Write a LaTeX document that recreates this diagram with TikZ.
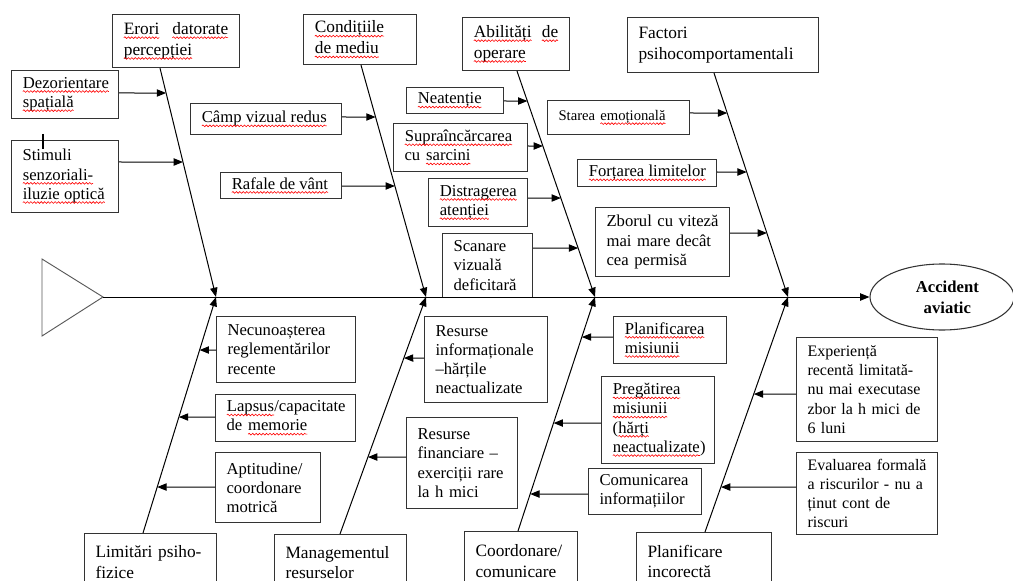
\documentclass[tikz,border=0pt]{standalone}
\usepackage{fontspec}
\setmainfont{Liberation Serif}
\usetikzlibrary{shapes.geometric,arrows.meta,calc,decorations.pathmorphing}

% red wavy underline for flagged words
\newcommand\sq[1]{\tikz[baseline=(w.base)]{\node[inner sep=0pt,outer sep=0pt,draw=none,
    text width={},minimum width=0pt,minimum height=0pt,anchor=center] (w) {#1};
  \draw[red,line width=0.45pt,decorate,decoration={snake,amplitude=0.65pt,segment length=2.6pt}]
    ([yshift=-2.4pt]w.base west) -- ([yshift=-2.4pt]w.base east);}}

% a line spread over the full text width
\newcommand\jl[1]{\leavevmode\hbox to\hsize{#1}}

% box given by its corners (x1,y1)-(x2,y2)
\newcommand\cb[7][]{%
  \pgfmathsetmacro\bw{(#5-#3)*0.75}%
  \pgfmathsetmacro\bh{(#6-#4)*0.75}%
  \pgfmathsetmacro\tw{(#5-#3-22)*0.75}%
  \node[cbox,minimum width=\bw pt,minimum height=\bh pt,text width=\tw pt,#1] (#2) at (#3,#4) {#7};}

% arrow from a box side, at level y, to a rib
\newcommand\feed[5]{%
  \coordinate (lvl) at (0,#3);
  \draw[branch] (#1.#2 |- lvl) -- (intersection cs: first line={(#4)--(#5)}, second line={(lvl)--(1,#3)});}

\tikzset{
  cbox/.style={draw=black!80,line width=0.8pt,anchor=north west,inner xsep=8.25pt,inner ysep=0pt,
    align=left,font=\fontsize{12.5}{14.4}\selectfont,
    execute at begin node={\hyphenpenalty=10000\exhyphenpenalty=10000}},
  cat/.style={font=\fontsize{13}{15.6}\selectfont},
  small/.style={font=\fontsize{11}{13}\selectfont},
  dense/.style={font=\fontsize{12}{14.4}\selectfont},
  branch/.style={line width=0.75pt,-{Triangle[length=7pt,width=5.5pt]}},
}

\begin{document}
\begin{tikzpicture}[x=0.75pt,y=-0.75pt]
\useasboundingbox (0,0) rectangle (1013,581);
\clip (0,0) rectangle (1013,581);

% fish tail and head
\coordinate (tail) at (103,297);
\draw[black!65,line width=0.7pt] (42,259) -- (tail) -- (42,336) -- cycle;
\node[ellipse,draw=black!80,line width=0.8pt,minimum width=108pt,minimum height=49.5pt,
  align=center,font=\fontsize{12.5}{15.5}\selectfont\bfseries,inner sep=0pt] (acc) at (942,297)
  {\hspace*{8pt}Accident\\\hspace*{8pt}aviatic};

% upper category boxes
\cb[cat]{erori}{112}{14}{239}{67}{\jl{\sq{Erori}\hfill\sq{datorate}}\\\sq{percepției}}
\cb[cat]{cond}{303}{14}{416}{64}{\sq{Condițiile}\\\sq{de mediu}}
\cb[cat]{abil}{462}{17}{569}{70}{\jl{\sq{Abilități}\hfill\sq{de}}\\\sq{operare}}
\cb[cat]{factori}{627}{17}{818}{72}{Factori\\psihocomportamentali}

% upper causes
\cb{dez}{11}{70}{118}{118}{\sq{Dezorientare}\\\sq{spațială}}
\cb{stim}{11}{140}{118}{212}{Stimuli\\\sq{senzoriali-}\\\sq{iluzie optică}}
\cb{camp}{190}{103}{341}{134}{\sq{Câmp vizual redus}}
\cb{rafale}{220}{172}{341}{198}{\sq{Rafale de vânt}}
\cb{neat}{406}{87}{503}{113}{\sq{Neatenție}}
\cb{supra}{393}{123}{527}{171}{\sq{Supraîncărcarea}\\cu \sq{sarcini}}
\cb{distr}{428}{178}{527}{226}{\sq{Distragerea}\\\sq{atenției}}
\cb{scan}{442}{233}{532}{297}{Scanare\\vizuală\\deficitară}
\cb[small]{starea}{547}{100}{689}{134}{Starea \sq{emoțională}}
\cb{fortarea}{577}{159}{716}{186}{\sq{Forțarea limitelor}}
\cb{zborul}{595}{207}{729}{276}{\jl{Zborul cu viteză}\\\jl{mai mare decât}\\cea permisă}

% lower category boxes
\cb[cat]{lim}{84}{533}{216}{590}{Limitări psiho-\\fizice}
\cb[cat]{man}{274}{534}{406}{590}{Managementul\\resurselor}
\cb[cat]{coord}{464}{531}{577}{590}{Coordonare/\\comunicare}
\cb[cat]{planinc}{636}{532}{771}{590}{Planificare\\incorectă}

% lower causes
\cb{necun}{216}{316}{355}{382}{Necunoașterea\\reglementărilor\\recente}
\cb{lapsus}{215}{394}{355}{441}{\sq{Lapsus}/capacitate\\de \sq{memorie}}
\cb{apt}{215}{452}{320}{522}{Aptitudine/\\coordonare\\motrică}
\cb{rinfo}{424}{316}{547}{402}{Resurse\\informaționale\\–hărțile\\neactualizate}
\cb{rfin}{406}{417}{517}{508}{Resurse\\financiare –\\exerciții rare\\la h mici}
\cb{planm}{613}{316}{726}{363}{\sq{Planificarea}\\\sq{misiunii}}
\cb{preg}{601}{376}{714}{463}{\sq{Pregătirea}\\\sq{misiunii}\\(\sq{hărți}\\\sq{neactualizate})}
\cb{comm}{588}{468}{701}{514}{Comunicarea\\informațiilor}
\cb[dense]{exp}{796}{337}{937}{441}{Experiență\\\jl{recentă limitată-}\\\jl{nu mai executase}\\\jl{zbor la h mici de}\\6 luni}
\cb[dense]{eval}{796}{452}{937}{534}{\jl{Evaluarea formală}\\\jl{a riscurilor - nu a}\\\jl{ținut cont de}\\riscuri}

% small stray mark over the stimuli box
\draw[line width=1.1pt] (43,134) -- (43,149);

% junctions on the backbone
\coordinate (J1) at (216,297);
\coordinate (J2) at (426,297);
\coordinate (J3) at (595,297);
\coordinate (J4) at (788,297);

% rib start points on the category boxes
\coordinate (ET) at ($(erori.south west)+(48,0)$);
\coordinate (CT) at ($(cond.south west)+(58,0)$);
\coordinate (AT) at ($(abil.south west)+(55,0)$);
\coordinate (FT) at ($(factori.south west)+(87,0)$);
\coordinate (LT) at ($(lim.north west)+(59,0)$);
\coordinate (MT) at ($(man.north west)+(66,0)$);
\coordinate (OT) at ($(coord.north west)+(54,0)$);
\coordinate (PT) at ($(planinc.north west)+(69,0)$);

% backbone and ribs
\draw[branch] (tail) -- (acc.west);
\foreach \s/\j in {ET/J1,CT/J2,AT/J3,FT/J4,LT/J1,MT/J2,OT/J3,PT/J4}
  \draw[branch] (\s) -- (\j);

% cause arrows
\feed{dez}{east}{93}{ET}{J1}
\feed{stim}{east}{162}{ET}{J1}
\feed{camp}{east}{117}{CT}{J2}
\feed{rafale}{east}{186}{CT}{J2}
\feed{neat}{east}{101}{AT}{J3}
\feed{supra}{east}{146}{AT}{J3}
\feed{distr}{east}{198}{AT}{J3}
\feed{scan}{east}{248}{AT}{J3}
\feed{starea}{east}{113}{FT}{J4}
\feed{fortarea}{east}{172}{FT}{J4}
\feed{zborul}{east}{233}{FT}{J4}
\feed{necun}{west}{350}{LT}{J1}
\feed{lapsus}{west}{417}{LT}{J1}
\feed{apt}{west}{487}{LT}{J1}
\feed{rinfo}{west}{358}{MT}{J2}
\feed{rfin}{west}{457}{MT}{J2}
\feed{planm}{west}{337}{OT}{J3}
\feed{preg}{west}{423}{OT}{J3}
\feed{comm}{west}{494}{OT}{J3}
\feed{exp}{west}{394}{PT}{J4}
\feed{eval}{west}{487}{PT}{J4}
\end{tikzpicture}
\end{document}
